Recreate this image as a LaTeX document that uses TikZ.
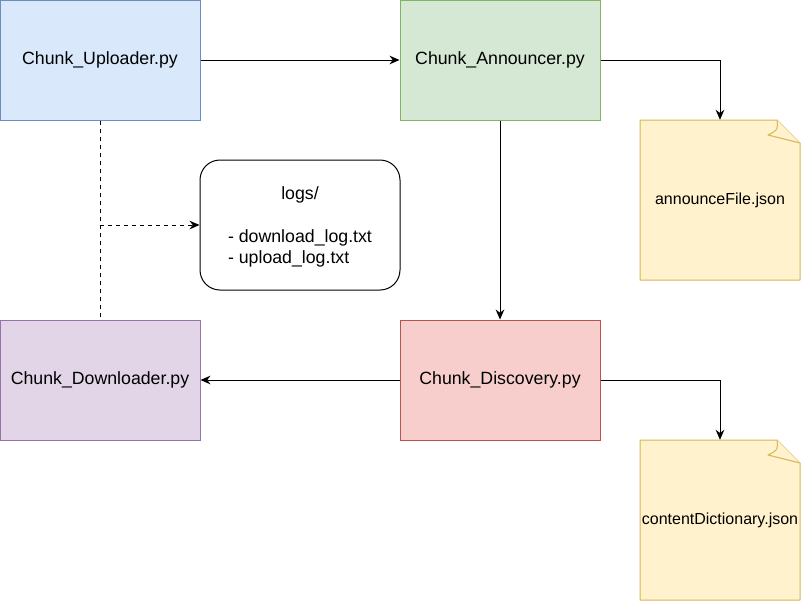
\documentclass[tikz,border=0pt]{standalone}
\usepackage{fontspec}
\setmainfont{Liberation Sans}
\usetikzlibrary{%
    arrows.meta,%
    positioning
}
\definecolor{upfill}{HTML}{DAE8FC}\definecolor{updraw}{HTML}{6C8EBF}
\definecolor{anfill}{HTML}{D5E8D4}\definecolor{andraw}{HTML}{82B366}
\definecolor{disfill}{HTML}{F8CECC}\definecolor{disdraw}{HTML}{B85450}
\definecolor{downfill}{HTML}{E1D5E7}\definecolor{downdraw}{HTML}{9673A6}
\definecolor{notefill}{HTML}{FFF2CC}\definecolor{notedraw}{HTML}{D6B656}
\tikzset{
    script/.style={draw,line width=0.75pt,minimum width=150pt,minimum height=90pt,inner sep=0pt,font=\fontsize{13.3}{16}\selectfont},
    notetext/.style={minimum width=120pt,minimum height=120pt,inner sep=0pt,font=\fontsize{12}{14}\selectfont},
    notebody/.style={fill=notefill,draw=notedraw,line width=0.75pt,line join=round},
    flow/.style={->,line width=0.75pt,>={Stealth[length=7.5pt,width=6.5pt,inset=2.4pt]}}
}

\begin{document}
\begin{tikzpicture}[x=0.75pt,y=-0.75pt]
\useasboundingbox (0,0) rectangle (801,601);

% the four scripts
\node[script,fill=upfill,draw=updraw] (up) at (100,60) {Chunk\_Uploader.py};
\node[script,fill=anfill,draw=andraw] (ann) at (500,60) {Chunk\_Announcer.py};
\node[script,fill=disfill,draw=disdraw] (dis) at (500,380) {Chunk\_Discovery.py};
\node[script,fill=downfill,draw=downdraw] (down) at (100,380) {Chunk\_Downloader.py};

% log folder
\node[draw,line width=0.75pt,rounded corners=15pt,minimum width=150pt,minimum height=97.5pt,inner sep=0pt,align=center,
      font=\fontsize{13.3}{15.5}\selectfont] (logs) at (300,225)
      {\rule{0pt}{14pt}logs/\\[18pt]\begin{tabular}{@{}l@{}}- download\_log.txt\\- upload\_log.txt\end{tabular}};

% json notes
\filldraw[notebody] (640,120)--(777,120)--(800,143)--(800,280)--(640,280)--cycle;
\draw[notebody] (777,120) .. controls (778,130) .. (768,135) -- (800,143);
\node[notetext] (annfile) at (720,200) {announceFile.json};

\filldraw[notebody] (640,440)--(777,440)--(800,463)--(800,600)--(640,600)--cycle;
\draw[notebody] (777,440) .. controls (778,450) .. (768,455) -- (800,463);
\node[notetext] (dict) at (720,520) {contentDictionary.json};

% connectors
\draw[flow] (up) -- (ann);
\draw[flow] (ann.east) -| (annfile.north);
\draw[flow] (ann) -- (dis);
\draw[flow] (dis) -- (down);
\draw[flow] (dis.east) -| (dict.north);

\coordinate (tap) at (100,225);
\draw[line width=0.75pt,dash pattern=on 3pt off 3pt] (up.south) -- (down.north);
\draw[flow,dash pattern=on 3pt off 3pt] (tap) -- (logs.west);
\end{tikzpicture}
\end{document}
